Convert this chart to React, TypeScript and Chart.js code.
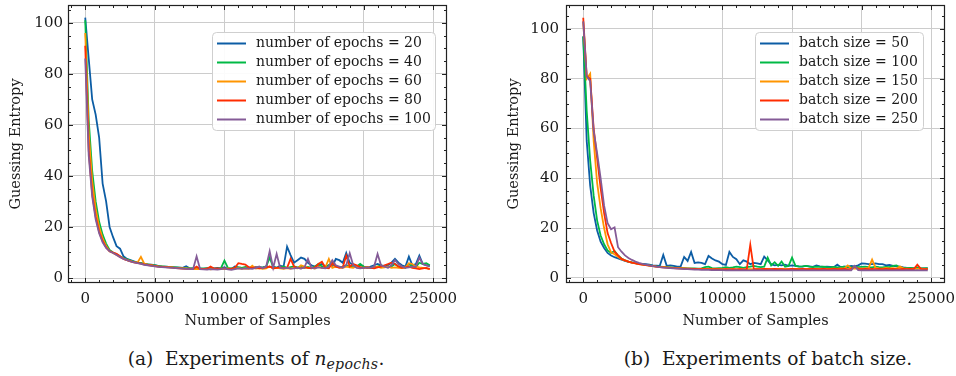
import React, { useEffect, useRef } from 'react';
import { Chart, registerables } from 'chart.js';

Chart.register(...registerables);

// ---------------- data ----------------
const samples = [
  0, 250, 500, 750, 1000, 1250, 1500, 1750, 2000, 2250,
  2500, 2750, 3000, 3250, 3500, 3750, 4000, 4250, 4500, 4750,
  5000, 5250, 5500, 5750, 6000, 6250, 6500, 6750, 7000, 7250,
  7500, 7750, 8000, 8250, 8500, 8750, 9000, 9250, 9500, 9750,
  10000, 10250, 10500, 10750, 11000, 11250, 11500, 11750, 12000, 12250,
  12500, 12750, 13000, 13250, 13500, 13750, 14000, 14250, 14500, 14750,
  15000, 15250, 15500, 15750, 16000, 16250, 16500, 16750, 17000, 17250,
  17500, 17750, 18000, 18250, 18500, 18750, 19000, 19250, 19500, 19750,
  20000, 20250, 20500, 20750, 21000, 21250, 21500, 21750, 22000, 22250,
  22500, 22750, 23000, 23250, 23500, 23750, 24000, 24250, 24500, 24750,
];

const xTicks = [0, 5000, 10000, 15000, 20000, 25000];
const yTicks = [0, 20, 40, 60, 80, 100];

const epochLabels = [
  'number of epochs = 20',
  'number of epochs = 40',
  'number of epochs = 60',
  'number of epochs = 80',
  'number of epochs = 100',
];
const batchLabels = [
  'batch size = 50',
  'batch size = 100',
  'batch size = 150',
  'batch size = 200',
  'batch size = 250',
];

const epochs20 = [
  102, 86, 70, 64, 55, 37, 30, 20, 16, 12.5,
  11.5, 8.5, 7.5, 7, 6.5, 6, 5.8, 5.5, 5.3, 5.2,
  5, 4.8, 4.6, 4.5, 4.4, 4.3, 4.2, 4.1, 4, 4.6,
  3.8, 3.8, 3.7, 3.8, 3.6, 4, 3.9, 3.8, 4, 3.8,
  4.2, 3.6, 3.5, 4.5, 4.2, 4, 4, 4.2, 4, 4.3,
  4.1, 4.2, 4.5, 4.3, 4.5, 4, 4.8, 4.5, 12.3, 9,
  6, 7, 8, 7.5, 6, 5, 4.5, 5, 5.5, 4.5,
  5, 4.5, 7.5, 7, 6, 9.8, 6, 5, 4.5, 5,
  4.5, 4, 4.5, 5, 5.5, 5, 4.5, 5, 6, 7.5,
  6, 5, 4.5, 8.4, 5, 5.5, 8.8, 5.5, 5, 4.8,
];
const epochs40 = [
  101, 62, 42, 30, 22, 17, 13.5, 11, 10, 9.3,
  8.5, 7.8, 7.3, 6.8, 6.3, 6, 5.8, 5.5, 5.3, 5.1,
  4.9, 4.7, 4.6, 4.5, 4.4, 4.3, 4.2, 4.1, 4, 3.9,
  3.8, 3.8, 3.9, 3.7, 3.8, 3.7, 4, 3.8, 3.7, 3.9,
  6.8, 4, 3.8, 4, 4.2, 4, 4.3, 4, 4.1, 4,
  4.3, 4.1, 4.5, 8, 4.3, 4, 4.2, 4.5, 4, 4.3,
  4.5, 4.2, 4.5, 4, 4.3, 4, 4.5, 5.5, 4.5, 4.2,
  5, 6, 4.5, 4.3, 4.5, 5, 4.5, 4.3, 4.5, 5.5,
  4.5, 4.2, 4, 4.3, 4.5, 5, 4.5, 4.2, 4.5, 5.5,
  4.5, 4.3, 4, 5.5, 4.5, 4.3, 6, 5.5, 5.8, 5,
];
const epochs60 = [
  96, 57, 38, 27, 20, 15.5, 12.5, 10.5, 9.8, 9,
  8.3, 7.6, 7, 6.6, 6.2, 6, 8.3, 5.5, 5.2, 5,
  4.8, 4.6, 4.5, 4.4, 4.3, 4.2, 4, 3.9, 3.8, 3.8,
  3.7, 3.6, 3.5, 3.6, 3.5, 3.8, 3.4, 3.6, 3.5, 3.7,
  3.6, 3.8, 3.5, 3.7, 3.9, 3.6, 3.8, 3.6, 4.8, 3.7,
  3.9, 3.6, 3.8, 4.5, 3.7, 4, 3.8, 3.6, 3.9, 3.7,
  4, 3.8, 5, 4.5, 3.9, 4, 3.7, 4.5, 3.9, 4.2,
  7.5, 4, 4.5, 4.2, 4, 4.5, 4.2, 4, 4.6, 4.3,
  4, 4.3, 4, 3.9, 4.5, 4, 4.2, 4.5, 4, 4.2,
  4, 3.9, 4.2, 5.8, 5.5, 4.5, 4.2, 4, 3.8, 3.5,
];
const epochs80 = [
  91, 50, 33, 24, 18, 14.5, 12, 10.5, 10, 9.5,
  8.5, 7.5, 7, 6.5, 6.1, 5.9, 5.6, 5.3, 5.1, 4.9,
  4.7, 4.5, 4.4, 4.3, 4.2, 4.1, 3.9, 3.8, 3.7, 3.6,
  3.6, 3.5, 4.5, 3.5, 3.6, 3.5, 4.5, 3.7, 3.8, 3.6,
  3.8, 3.5, 3.7, 4, 5.8, 5.5, 5.3, 4.2, 4, 4.2,
  3.8, 4, 4.2, 4.5, 3.8, 4, 4.2, 3.9, 4, 7.5,
  4.5, 4, 3.8, 4.2, 4, 3.8, 4.2, 5.5, 6.4, 4,
  3.8, 5.8, 4.5, 4, 4.2, 8.7, 4.5, 5.5, 5, 4.2,
  4, 4.2, 4, 3.8, 4.2, 4.5, 5, 5.5, 6, 5.5,
  4.5, 4, 4.2, 4.5, 4, 3.8, 3.5, 3.8, 4, 3.5,
];
const epochs100 = [
  86, 48, 32, 23, 17.5, 14, 11.8, 10.5, 9.8, 9,
  8.2, 7.5, 7, 6.5, 6.1, 5.8, 5.5, 5.2, 5, 4.8,
  4.6, 4.4, 4.3, 4.2, 4.1, 4, 3.9, 3.8, 3.7, 3.6,
  3.5, 3.5, 8.5, 3.5, 3.4, 3.3, 3.5, 3.4, 3.3, 3.5,
  3.8, 3.4, 3.2, 3.5, 3.8, 3.6, 3.8, 3.7, 3.6, 4,
  4.5, 3.8, 4.5, 10.5, 4, 9.4, 4, 3.8, 4, 3.7,
  3.8, 4, 3.7, 4.2, 7.5, 4, 3.8, 4.2, 4, 3.8,
  4.5, 7, 5, 4.5, 4, 5, 9.7, 5, 4, 3.8,
  4, 4.2, 4, 4.5, 9.4, 5, 4.5, 4, 5, 7,
  5.5, 4.5, 4, 4.2, 4.5, 4.5, 8, 5.5, 5, 4.5,
];

const batch50 = [
  97, 55, 37, 26, 19, 14.5, 12, 10, 9, 8.3,
  7.8, 7.3, 6.8, 6.4, 6.1, 5.9, 5.7, 5.6, 5.5, 5.3,
  5, 4.9, 4.8, 9.2, 4.8, 5, 4.8, 4.5, 4.6, 8.4,
  6.8, 10.4, 6, 6.2, 6, 5.5, 8.8, 7.8, 7, 6.5,
  5.5, 5.2, 10.4, 8.4, 7.5, 5.5, 7, 6.5, 5.5, 6,
  5.8, 5.5, 8.5, 7, 5.5, 5, 5.2, 5, 5.3, 4.8,
  5, 4.8, 4.6, 4.5, 4.8, 4.6, 4.4, 5, 4.6, 4.4,
  4.5, 4.4, 4.3, 5.3, 4.3, 4.5, 4.5, 4.8, 4.6, 5,
  5.8, 5.7, 5.5, 5.5, 5.8, 5.5, 5.5, 5, 5.2, 4.8,
  4.6, 4.5, 4.2, 4, 4, 3.9, 4, 3.8, 3.8, 3.8,
];
const batch100 = [
  97, 67, 47, 33, 23, 17, 13.5, 11, 10, 10.8,
  9, 7.8, 7, 6.5, 6.2, 5.9, 5.6, 5.4, 5.2, 5,
  4.8, 4.6, 4.5, 4.4, 4.3, 4.2, 4.1, 4, 3.9, 3.9,
  3.8, 3.8, 3.8, 3.7, 3.8, 4.3, 4.5, 3.9, 3.8, 3.9,
  4, 4.3, 4, 4.2, 4.5, 4.3, 4, 4.3, 4.5, 4.8,
  4.5, 4.3, 4.5, 8.1, 5, 6.3, 4.8, 6.6, 4.5, 4.8,
  8.1, 4.8, 4.5, 4.6, 4.8, 4.5, 4.3, 4.5, 4.4, 4.5,
  4.3, 4.2, 4.4, 4.2, 4.3, 4.5, 4.3, 4.2, 4.5, 4.3,
  4.4, 4.5, 4.3, 4.2, 4.5, 4.3, 4.2, 4.4, 4.3, 4.8,
  5, 4.2, 4, 3.9, 4, 3.8, 4.2, 3.9, 3.8, 3.9,
];
const batch150 = [
  103, 80, 82, 55, 38, 28, 20, 13.5, 10.2, 9.5,
  8.5, 7.5, 7, 6.5, 6.1, 5.8, 5.5, 5.3, 5.1, 4.9,
  4.7, 4.5, 4.4, 4.3, 4.2, 4.1, 4, 3.9, 3.8, 3.8,
  3.7, 3.7, 3.6, 3.6, 3.6, 3.5, 3.5, 3.5, 3.5, 3.5,
  3.4, 3.5, 3.4, 3.5, 3.4, 3.5, 3.4, 3.5, 3.5, 3.4,
  3.5, 3.4, 3.5, 3.6, 3.5, 3.4, 3.5, 3.6, 3.5, 3.4,
  3.5, 3.6, 3.5, 3.6, 3.5, 3.6, 3.5, 3.6, 3.5, 3.6,
  3.5, 3.6, 3.7, 3.6, 3.8, 3.7, 5, 3.8, 3.7, 3.8,
  3.7, 3.8, 4, 7.3, 4, 3.8, 3.7, 4, 3.8, 3.9,
  3.7, 4.5, 3.8, 3.7, 3.6, 3.7, 3.6, 3.7, 3.6, 3.5,
];
const batch200 = [
  104.5, 81, 80, 60, 48, 36, 26, 18, 14, 10.5,
  9, 7.6, 7, 6.5, 6.1, 5.8, 5.5, 5.3, 5.1, 4.9,
  4.7, 4.5, 4.3, 4.2, 4.1, 4, 3.9, 3.8, 3.8, 3.7,
  3.7, 3.6, 3.6, 3.5, 3.5, 3.5, 3.5, 3.4, 3.5, 3.4,
  3.4, 3.5, 3.4, 3.5, 3.4, 3.5, 3.4, 3.5, 13.3, 3.6,
  3.5, 3.5, 3.6, 3.5, 3.5, 3.6, 3.5, 3.5, 3.4, 3.5,
  3.6, 3.5, 3.5, 3.6, 3.5, 3.5, 3.6, 3.5, 3.5, 3.6,
  3.5, 3.5, 3.6, 3.5, 3.5, 3.6, 3.5, 3.6, 4.6, 3.6,
  3.5, 3.6, 3.5, 3.6, 3.5, 3.6, 3.5, 3.6, 3.5, 3.6,
  3.5, 3.5, 3.6, 3.5, 3.6, 3.5, 5.3, 3.6, 3.5, 3.5,
];
const batch250 = [
  103, 81, 79, 59, 50, 40, 29, 22, 19.5, 20.3,
  12.3, 10.5, 9, 8, 7.2, 6.5, 6, 5.6, 5.3, 5,
  4.7, 4.5, 4.3, 4.1, 4, 3.9, 3.8, 3.7, 3.6, 3.5,
  3.5, 3.4, 3.3, 3.3, 3.2, 3.2, 3.2, 3.1, 3.1, 3.1,
  3.1, 3, 3.1, 3, 3.1, 3, 3.1, 3, 3, 3.1,
  3, 3.1, 3, 3, 3.1, 3, 3, 3.1, 3, 3,
  3.1, 3, 3, 3.1, 3, 3, 3.1, 3, 3, 3.1,
  3, 3, 3.1, 3, 3, 3.1, 3, 3, 4.8, 3.1,
  3, 3.1, 3, 3, 3.1, 3, 3, 3.1, 3, 3,
  3.1, 3, 3, 3.1, 3, 3, 3.1, 3, 3, 3,
];

const colors = ['#0C5DA5', '#00B945', '#FF9500', '#FF2C00', '#845B97'];

// ---------------- styling ----------------
const FONT = '"DejaVu Serif", "Liberation Serif", serif';
const TEXT = '#1a1a1a';

type Panel = {
  labels: string[];
  series: number[][];
  yMin: number;
  yMax: number;
  width: number;
  yAxisWidth: number;
  padRight: number;
  yTitlePad: number;
  yTickPad: number;
  legend: { left: number; top: number; right: number; bottom: number; lineX0: number; lineX1: number; textX: number; rowY0: number; rowGap: number };
};

const X_MIN = -1237.5;
const X_MAX = 25987.5;
const CANVAS_H = 335;

const framePlugin = {
  id: 'frameTicksLegend',
  afterDatasetsDraw(chart: any, _args: any, opts: any) {
    const { ctx, chartArea: a, scales } = chart;
    const xs = scales.x;
    const ys = scales.y;
    ctx.save();
    ctx.strokeStyle = '#222';
    ctx.lineWidth = 1;
    const seg = (x0: number, y0: number, x1: number, y1: number) => {
      ctx.beginPath();
      ctx.moveTo(x0, y0);
      ctx.lineTo(x1, y1);
      ctx.stroke();
    };
    // x ticks (major + minor), inward on bottom and top
    for (let v = -1000; v <= 26000; v += 1000) {
      const px = Math.round(xs.getPixelForValue(v)) + 0.5;
      if (px < a.left || px > a.right) continue;
      const len = v % 5000 === 0 ? 5 : 3;
      seg(px, a.bottom, px, a.bottom - len);
      seg(px, a.top, px, a.top + len);
    }
    for (let v = -5; v <= 110; v += 5) {
      const py = Math.round(ys.getPixelForValue(v)) + 0.5;
      if (py < a.top || py > a.bottom) continue;
      const len = v % 20 === 0 ? 5 : 3;
      seg(a.left, py, a.left + len, py);
      seg(a.right, py, a.right - len, py);
    }
    ctx.lineWidth = 1.2;
    ctx.strokeRect(Math.round(a.left) + 0.5, Math.round(a.top) + 0.5, Math.round(a.right - a.left) - 1, Math.round(a.bottom - a.top) - 1);

    // legend
    const L = opts.box;
    if (L) {
      const r = 4;
      ctx.beginPath();
      ctx.moveTo(L.left + r, L.top);
      ctx.lineTo(L.right - r, L.top);
      ctx.arcTo(L.right, L.top, L.right, L.top + r, r);
      ctx.lineTo(L.right, L.bottom - r);
      ctx.arcTo(L.right, L.bottom, L.right - r, L.bottom, r);
      ctx.lineTo(L.left + r, L.bottom);
      ctx.arcTo(L.left, L.bottom, L.left, L.bottom - r, r);
      ctx.lineTo(L.left, L.top + r);
      ctx.arcTo(L.left, L.top, L.left + r, L.top, r);
      ctx.closePath();
      ctx.fillStyle = 'rgba(255,255,255,0.92)';
      ctx.fill();
      ctx.strokeStyle = '#cfcfcf';
      ctx.lineWidth = 1;
      ctx.stroke();
      ctx.font = `14px ${FONT}`;
      ctx.textBaseline = 'middle';
      ctx.textAlign = 'left';
      chart.data.datasets.forEach((ds: any, i: number) => {
        const y = L.rowY0 + i * L.rowGap;
        ctx.strokeStyle = ds.borderColor;
        ctx.lineWidth = 2;
        seg(L.lineX0, y, L.lineX1, y);
        ctx.fillStyle = TEXT;
        ctx.fillText(ds.label, L.textX, y);
      });
    }
    ctx.restore();
  },
};

function makeConfig(p: Panel): any {
  const tickFont = { family: FONT, size: 15 };
  const titleFont = { family: FONT, size: 14.5 };
  return {
    type: 'line',
    data: {
      datasets: p.series.map((vals, i) => ({
        label: p.labels[i],
        data: samples.map((s, j) => ({ x: s, y: vals[j] })),
        borderColor: colors[i],
        backgroundColor: colors[i],
        borderWidth: 1.8,
        pointRadius: 0,
        tension: 0,
        fill: false,
        order: p.series.length - i,
      })),
    },
    options: {
      animation: false,
      responsive: false,
      maintainAspectRatio: false,
      events: [],
      layout: { padding: { left: 0, right: p.padRight, top: 5, bottom: 0 } },
      plugins: {
        legend: { display: false },
        tooltip: { enabled: false },
        frameTicksLegend: { box: p.legend },
      },
      scales: {
        x: {
          type: 'linear',
          min: X_MIN,
          max: X_MAX,
          afterBuildTicks: (s: any) => {
            s.ticks = xTicks.map((v) => ({ value: v }));
          },
          afterFit: (s: any) => {
            s.height = 52;
            s.paddingLeft = 0;
            s.paddingRight = 0;
            s.paddingTop = 0;
            s.paddingBottom = 0;
          },
          grid: { color: '#cccccc', lineWidth: 1, drawTicks: false },
          border: { display: false },
          ticks: {
            font: tickFont,
            color: TEXT,
            padding: 7,
            maxRotation: 0,
            autoSkip: false,
            callback: (v: any) => String(v),
          },
          title: {
            display: true,
            text: 'Number of Samples',
            font: titleFont,
            color: TEXT,
            padding: { top: 0, bottom: 5 },
          },
        },
        y: {
          type: 'linear',
          min: p.yMin,
          max: p.yMax,
          afterBuildTicks: (s: any) => {
            s.ticks = yTicks.map((v) => ({ value: v }));
          },
          afterFit: (s: any) => {
            s.width = p.yAxisWidth;
            s.paddingLeft = 0;
            s.paddingRight = 0;
            s.paddingTop = 0;
            s.paddingBottom = 0;
          },
          grid: { color: '#cccccc', lineWidth: 1, drawTicks: false },
          border: { display: false },
          ticks: {
            font: tickFont,
            color: TEXT,
            padding: p.yTickPad,
            autoSkip: false,
            callback: (v: any) => String(v),
          },
          title: {
            display: true,
            text: 'Guessing Entropy',
            font: titleFont,
            color: TEXT,
            padding: { top: p.yTitlePad, bottom: 0 },
          },
        },
      },
    },
    plugins: [framePlugin],
  };
}

const panelA: Panel = {
  labels: epochLabels,
  series: [epochs20, epochs40, epochs60, epochs80, epochs100],
  yMin: -1.95,
  yMax: 106.95,
  width: 470,
  yAxisWidth: 68,
  padRight: 23,
  yTitlePad: 8,
  yTickPad: 5,
  legend: { left: 212.5, top: 32.5, right: 435.5, bottom: 130.5, lineX0: 217, lineX1: 246, textX: 256, rowY0: 43.5, rowGap: 19 },
};

const panelB: Panel = {
  labels: batchLabels,
  series: [batch50, batch100, batch150, batch200, batch250],
  yMin: -2.07,
  yMax: 109.6,
  width: 478,
  yAxisWidth: 88,
  padRight: 11,
  yTitlePad: 28,
  yTickPad: 7,
  legend: { left: 277.5, top: 32.5, right: 445.5, bottom: 130.5, lineX0: 282, lineX1: 311, textX: 321, rowY0: 43.5, rowGap: 19 },
};

function ChartPanel({ panel, left }: { panel: Panel; left: number }) {
  const ref = useRef<HTMLCanvasElement | null>(null);
  useEffect(() => {
    if (!ref.current) return;
    const chart = new Chart(ref.current, makeConfig(panel));
    return () => chart.destroy();
  }, [panel]);
  return (
    <canvas
      ref={ref}
      width={panel.width}
      height={CANVAS_H}
      style={{ position: 'absolute', left, top: 0, width: panel.width, height: CANVAS_H }}
    />
  );
}

const captionStyle: React.CSSProperties = {
  position: 'absolute',
  top: 348,
  transform: 'translateX(-50%)',
  whiteSpace: 'nowrap',
  fontFamily: FONT,
  fontSize: 18.6,
  color: TEXT,
  lineHeight: '22px',
};

export default function App() {
  return (
    <div style={{ position: 'fixed', left: 0, top: 0, width: 956, height: 376, background: '#fff', overflow: 'hidden' }}>
      <ChartPanel panel={panelA} left={0} />
      <ChartPanel panel={panelB} left={478} />
      <div style={{ ...captionStyle, left: 256 }}>
        (a)&nbsp; Experiments of <i>n</i>
        <sub style={{ fontSize: '0.76em', fontStyle: 'italic', verticalAlign: '-0.3em', letterSpacing: '0.3px' }}>epochs</sub>.
      </div>
      <div style={{ ...captionStyle, left: 768 }}>(b)&nbsp; Experiments of batch size.</div>
    </div>
  );
}
